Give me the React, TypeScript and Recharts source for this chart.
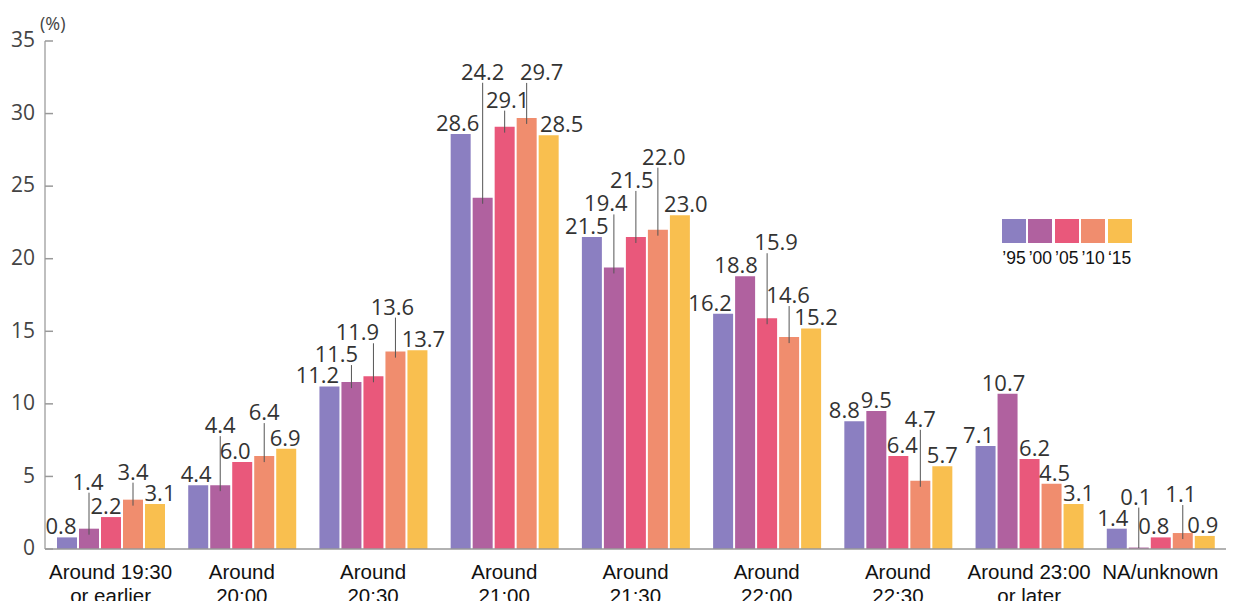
import { BarChart, Bar, XAxis, YAxis, Legend, LabelList } from "recharts";

const categories = [
  "Around 19:30\nor earlier",
  "Around\n20:00",
  "Around\n20:30",
  "Around\n21:00",
  "Around\n21:30",
  "Around\n22:00",
  "Around\n22:30",
  "Around 23:00\nor later",
  "NA/unknown",
];

const years = ["’95", "’00", "’05", "’10", "‘15"];
const colors = ["#8b7fc1", "#b0619f", "#e9587b", "#f08d6e", "#f9bf4f"];

const y1995 = [0.8, 4.4, 11.2, 28.6, 21.5, 16.2, 8.8, 7.1, 1.4];
const y2000 = [1.4, 4.4, 11.5, 24.2, 19.4, 18.8, 9.5, 10.7, 0.1];
const y2005 = [2.2, 6.0, 11.9, 29.1, 21.5, 15.9, 6.4, 6.2, 0.8];
const y2010 = [3.4, 6.4, 13.6, 29.7, 22.0, 14.6, 4.7, 4.5, 1.1];
const y2015 = [3.1, 6.9, 13.7, 28.5, 23.0, 15.2, 5.7, 3.1, 0.9];

const yTicks = [0, 5, 10, 15, 20, 25, 30, 35];

// label placement (px): how far a value label is lifted above its bar (with a leader line),
// and how far the text is nudged sideways
const labelLift = [
  [0, 0, 0, 0, 0, 0, 0, 0, 0],
  [36, 49, 17, 115, 53, 0, 0, 0, 40],
  [0, 0, 33, 16, 46, 65, 0, 0, 0],
  [17, 33, 34, 35, 62, 31, 51, 0, 28],
  [0, 0, 0, 0, 0, 0, 0, 0, 0],
];
const labelShift = [
  [-6, -2, -12, -3, -5, -13, -10, -7, -4],
  [-1, 0, -15, 0, -8, -9, 0, -4, -3],
  [-5, -7, -16, 3, -4, 9, 4, 5, -7],
  [0, 0, -3, 15, 6, -1, 0, 3, -2],
  [5, -1, 6, 13, 6, 5, 0, 5, -2],
];

const series = [y1995, y2000, y2005, y2010, y2015];
const keys = ["s95", "s00", "s05", "s10", "s15"];

const data = categories.map((cat, i) => {
  const row: Record<string, any> = { cat };
  keys.forEach((k, s) => (row[k] = series[s][i]));
  return row;
});

const PLOT_LEFT = 45;
const valueFont = "'Open Sans', 'Noto Sans', sans-serif";
const labelFont = "'Liberation Sans', Arial, sans-serif";

function makeLabel(s: number) {
  return (props: any) => {
    const vb = props.viewBox || props;
    const i = props.index;
    const cx = vb.x + vb.width / 2;
    const top = vb.y;
    const lift = labelLift[s][i] || 0;
    const dx = labelShift[s][i] || 0;
    const baseY = top - 3 - lift;
    const lineEnd = top + Math.min(6, Math.max(vb.height - 1, 0));
    return (
      <g>
        {lift > 0 && (
          <line x1={cx} x2={cx} y1={baseY + 3} y2={lineEnd} stroke="#555" strokeWidth={1} />
        )}
        <text x={cx + dx} y={baseY} textAnchor="middle" fontFamily={valueFont} fontSize={22} fill="#333">
          {Number(props.value).toFixed(1)}
        </text>
      </g>
    );
  };
}

function YTick(props: any) {
  const { y, payload } = props;
  return (
    <g>
      <line x1={PLOT_LEFT} x2={PLOT_LEFT + 8} y1={y} y2={y} stroke="#999" strokeWidth={1.5} />
      <text x={PLOT_LEFT - 10} y={y} dy="0.3em" textAnchor="end" fontFamily={valueFont} fontSize={21} fill="#444">
        {payload.value}
      </text>
    </g>
  );
}

function XTick(props: any) {
  const { x, y, payload } = props;
  const lines = String(payload.value).split("\n");
  return (
    <text x={x} y={y + 22} textAnchor="middle" fontFamily={labelFont} fontSize={20.5} fill="#111">
      {lines.map((l, k) => (
        <tspan key={k} x={x} dy={k === 0 ? 0 : 24}>
          {l}
        </tspan>
      ))}
    </text>
  );
}

function LegendContent() {
  return (
    <div style={{ display: "flex", gap: 2.4 }}>
      {years.map((label, i) => (
        <div key={i} style={{ width: 24, display: "flex", flexDirection: "column", alignItems: "center" }}>
          <div style={{ width: 24, height: 24, background: colors[i] }} />
          <div style={{ fontFamily: labelFont, fontSize: 17.5, lineHeight: "18px", marginTop: 6, color: "#111", whiteSpace: "nowrap" }}>
            {label}
          </div>
        </div>
      ))}
    </div>
  );
}

export default function App() {
  return (
    <div style={{ position: "absolute", left: 0, top: 0, width: 1239, height: 601, background: "#fff" }}>
      <BarChart
        width={1239}
        height={601}
        data={data}
        margin={{ top: 41, right: 13, left: 0, bottom: 0 }}
        barSize={20}
        barGap={2}
      >
        <XAxis
          dataKey="cat"
          height={52}
          interval={0}
          tickLine={false}
          axisLine={{ stroke: "#999", strokeWidth: 1.5 }}
          tick={<XTick />}
        />
        <YAxis
          width={45}
          domain={[0, 35]}
          ticks={yTicks}
          tickLine={false}
          axisLine={{ stroke: "#aaa", strokeWidth: 1.5 }}
          tick={<YTick />}
        />
        <Legend
          layout="horizontal"
          verticalAlign="middle"
          align="center"
          content={<LegendContent />}
          wrapperStyle={{ left: 1002, top: 219, width: 140, height: 50 }}
        />
        {keys.map((k, s) => (
          <Bar key={k} dataKey={k} name={years[s]} fill={colors[s]} isAnimationActive={false}>
            <LabelList dataKey={k} content={makeLabel(s)} />
          </Bar>
        ))}
      </BarChart>
      <div
        style={{
          position: "absolute",
          left: 40,
          top: 12,
          fontFamily: valueFont,
          fontSize: 18,
          lineHeight: "22px",
          color: "#444",
        }}
      >
        (%)
      </div>
    </div>
  );
}
